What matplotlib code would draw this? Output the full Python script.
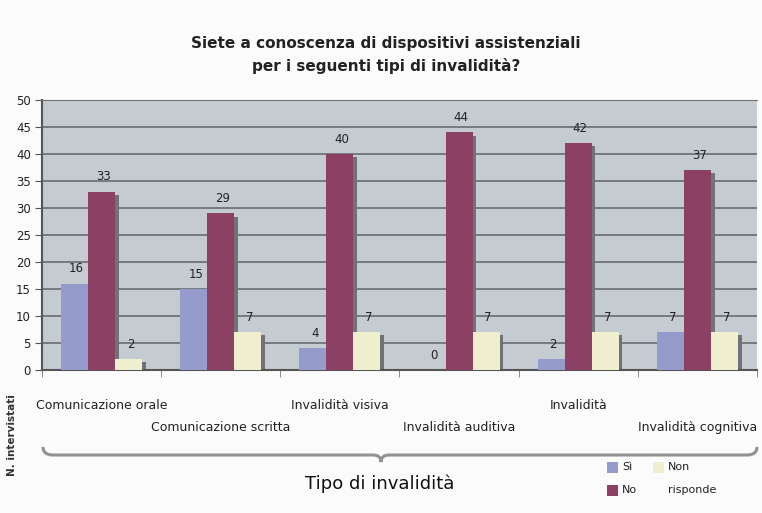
import matplotlib.pyplot as plt
import numpy as np
from matplotlib.path import Path
from matplotlib.patches import PathPatch, Rectangle

# dati
categorie = ["Comunicazione orale", "Comunicazione scritta", "Invalidità visiva",
             "Invalidità auditiva", "Invalidità", "Invalidità cognitiva"]
si = [16, 15, 4, 0, 2, 7]
no = [33, 29, 40, 44, 42, 37]
non_risponde = [2, 7, 7, 7, 7, 7]
serie = ["Sì", "No", "Non\nrisponde"]
colori = ["#959bcb", "#8c4064", "#efefcf"]
yticks = list(range(0, 51, 5))

fig = plt.figure(figsize=(7.62, 5.13), dpi=100)
fig.patch.set_facecolor("#fbfbfb")

ax = fig.add_axes([42 / 762, 143 / 513, 715 / 762, 270 / 513])
ax.set_facecolor("#c4cbd1")

x = np.arange(len(categorie))
w = 0.227
for k, vals in enumerate([si, no, non_risponde]):
    pos = x + (k - 1) * w
    # ombra
    ax.bar(pos + 0.03, np.maximum(np.array(vals) - 0.6, 0), w, color="#707275",
           zorder=2, linewidth=0)
    bars = ax.bar(pos, vals, w, color=colori[k], zorder=3, linewidth=0)
    for b, v in zip(bars, vals):
        ax.annotate(str(v), (b.get_x() + b.get_width() / 2, v), xytext=(1.5, 6),
                    textcoords="offset points", ha="center", va="bottom",
                    fontsize=8.5, color="#222222")

ax.set_xlim(-0.5, len(categorie) - 0.5)
ax.set_ylim(0, 50)
ax.set_yticks(yticks)
ax.tick_params(axis="y", labelsize=8.5, length=5, color="#555555", labelcolor="#222222", pad=3)
ax.set_xticks([])
ax.set_xticks(np.arange(-0.5, len(categorie)), minor=True)
ax.tick_params(axis="x", which="minor", length=5, color="#777777", direction="out")
ax.grid(axis="y", color="#6f7479", linewidth=1.3, zorder=1)
ax.set_axisbelow(True)
ax.spines["right"].set_visible(False)
ax.spines["top"].set_color("#6f7479")
ax.spines["left"].set_color("#555555")
ax.spines["left"].set_linewidth(1.5)
ax.spines["bottom"].set_color("#555555")
ax.spines["bottom"].set_linewidth(1.5)

for i, c in enumerate(categorie):
    yy = -0.13 if i % 2 == 0 else -0.212
    ax.text(i, yy, c, transform=ax.get_xaxis_transform(), ha="center", va="center",
            fontsize=9, color="#222222")

# overlay in pixel
ov = fig.add_axes([0, 0, 1, 1])
ov.set_xlim(0, 762)
ov.set_ylim(513, 0)
ov.axis("off")

ov.text(386, 55, "Siete a conoscenza di dispositivi assistenziali\nper i seguenti tipi di invalidità?",
        ha="center", va="center", fontsize=11, fontweight="bold", color="#222222",
        linespacing=1.5)
ov.text(12, 435, "N. intervistati", rotation=90, ha="center", va="center",
        fontsize=7.5, fontweight="bold", color="#333333")
ov.text(380, 484, "Tipo di invalidità", ha="center", va="center", fontsize=13,
        color="#111111")

# graffa
L, R, C, y0 = 43, 757, 381, 455
verts = [(L, y0 - 8), (L, y0), (L + 10, y0), (C - 8, y0), (C, y0), (C, y0 + 7),
         (C, y0), (C + 8, y0), (R - 10, y0), (R, y0), (R, y0 - 8)]
codes = [Path.MOVETO, Path.CURVE3, Path.CURVE3, Path.LINETO, Path.CURVE3, Path.CURVE3,
         Path.CURVE3, Path.CURVE3, Path.LINETO, Path.CURVE3, Path.CURVE3]
ov.add_patch(PathPatch(Path(verts, codes), fill=False, edgecolor="#909396", linewidth=2.2))

# legenda
leg_pos = [(607, 462), (607, 485), (653, 462)]
for (lx, ly), col, lab in zip(leg_pos, colori, serie):
    ov.add_patch(Rectangle((lx, ly), 11, 11, facecolor=col, edgecolor="none"))
    ov.text(lx + 15, ly, lab, ha="left", va="top", fontsize=8, color="#222222",
            linespacing=2.6)

plt.savefig("out.png", dpi=100, facecolor=fig.get_facecolor())
